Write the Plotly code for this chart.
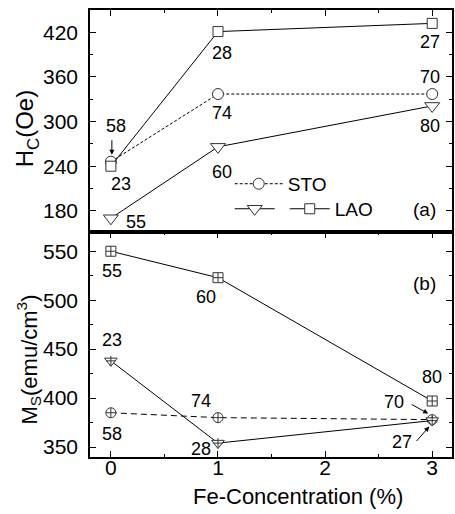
import plotly.graph_objects as go

# ---------------- data ----------------
fe = [0, 1, 3]

hc_sto = [246, 337, 337]
hc_tri = [170, 266, 321]
hc_sq = [240, 421, 432]

ms_sto = [385, 380, 378]
ms_tri = [438, 354, 377]
ms_sq = [550, 523, 397]

hc_sto_lbl = ["58", "74", "70"]
hc_tri_lbl = ["55", "60", "80"]
hc_sq_lbl = ["23", "28", "27"]
ms_sto_lbl = ["58", "74", "70"]
ms_tri_lbl = ["23", "28", "27"]
ms_sq_lbl = ["55", "60", "80"]

# label offsets in px (style)
hc_sto_off = [(5, 36), (4, -19), (-2, 17)]
hc_tri_off = [(25, -4), (4, -25), (-2, -20)]
hc_sq_off = [(10, -18), (4, -21), (-2, -19)]
ms_sto_off = [(1, -21), (-17, 17), (-38, 18)]
ms_tri_off = [(1, 21), (-17, -6), (-30, -21)]
ms_sq_off = [(1, -20), (-12, -19), (0, 24)]

FONT = "Liberation Sans, Arial, sans-serif"
BLK = "black"
MK = "#333333"

fig = go.Figure()

# ---- top panel (Hc) ----
fig.add_trace(go.Scatter(
    x=fe, y=hc_sto, xaxis="x2", yaxis="y2", mode="lines+markers", name="STO",
    line=dict(color=BLK, width=1, dash="3px,2px"),
    marker=dict(symbol="circle", size=11, color="white", line=dict(color=MK, width=1)),
    legend="legend"))
fig.add_trace(go.Scatter(
    x=fe, y=hc_tri, xaxis="x2", yaxis="y2", mode="lines+markers", name="",
    line=dict(color=BLK, width=1),
    marker=dict(symbol="triangle-down", size=13, color="white", line=dict(color=MK, width=1)),
    legend="legend2"))
fig.add_trace(go.Scatter(
    x=fe, y=hc_sq, xaxis="x2", yaxis="y2", mode="lines+markers", name="LAO",
    line=dict(color=BLK, width=1),
    marker=dict(symbol="square", size=10, color="white", line=dict(color=MK, width=1)),
    legend="legend2"))

# ---- bottom panel (Ms) ----
fig.add_trace(go.Scatter(
    x=fe, y=ms_sto, xaxis="x", yaxis="y", mode="lines+markers", showlegend=False,
    line=dict(color=BLK, width=1, dash="6px,4px"),
    marker=dict(symbol="circle-cross", size=10, color="white", line=dict(color=MK, width=1))))
fig.add_trace(go.Scatter(
    x=fe, y=ms_tri, xaxis="x", yaxis="y", mode="lines+markers", showlegend=False,
    line=dict(color=BLK, width=1),
    marker=dict(symbol="triangle-down", size=11, color="white", line=dict(color=MK, width=1))))
fig.add_trace(go.Scatter(
    x=fe, y=ms_tri, xaxis="x", yaxis="y", mode="markers", showlegend=False,
    marker=dict(symbol="cross-thin-open", size=7, color=MK, line=dict(color=MK, width=1))))
fig.add_trace(go.Scatter(
    x=fe, y=ms_sq, xaxis="x", yaxis="y", mode="lines+markers", showlegend=False,
    line=dict(color=BLK, width=1),
    marker=dict(symbol="square-cross", size=10, color="white", line=dict(color=MK, width=1))))

ann = []
def add_labels(ys, lbls, offs, xr, yr):
    for xv, yv, t, (dx, dy) in zip(fe, ys, lbls, offs):
        ann.append(dict(x=xv, y=yv, xref=xr, yref=yr, text=t, showarrow=False,
                        xshift=dx, yshift=dy, font=dict(family=FONT, size=18, color=BLK)))

add_labels(hc_sto, hc_sto_lbl, hc_sto_off, "x2", "y2")
add_labels(hc_tri, hc_tri_lbl, hc_tri_off, "x2", "y2")
add_labels(hc_sq, hc_sq_lbl, hc_sq_off, "x2", "y2")
add_labels(ms_sto, ms_sto_lbl, ms_sto_off, "x", "y")
add_labels(ms_tri, ms_tri_lbl, ms_tri_off, "x", "y")
add_labels(ms_sq, ms_sq_lbl, ms_sq_off, "x", "y")

def arrow(xv, yv, xr, yr, dx, dy, ax, ay):
    ann.append(dict(x=xv, y=yv, xref=xr, yref=yr, text="", showarrow=True,
                    xshift=dx, yshift=dy, ax=ax, ay=ay, arrowhead=2, arrowsize=1,
                    arrowwidth=1, arrowcolor=BLK, standoff=0, startstandoff=0))

arrow(fe[0], hc_sto[0], "x2", "y2", 1, 7, 0, -16)
arrow(fe[2], ms_sto[2], "x", "y", -4, 6, -18, -10)
arrow(fe[2], ms_tri[2], "x", "y", -3, -6, -14, 16)

ann.append(dict(x=0.923, y=0.104, xref="x2 domain", yref="y2 domain", text="(a)",
                xanchor="center", yanchor="middle",
                showarrow=False, font=dict(family=FONT, size=19, color=BLK)))
ann.append(dict(x=0.923, y=0.773, xref="x domain", yref="y domain", text="(b)",
                xanchor="center", yanchor="middle",
                showarrow=False, font=dict(family=FONT, size=19, color=BLK)))

# axis titles
ann.append(dict(x=-0.173, y=0.734, xref="paper", yref="paper", text="H<sub>C</sub>(Oe)",
                xanchor="center", yanchor="middle",
                textangle=-90, showarrow=False, font=dict(family=FONT, size=24, color=BLK)))
ann.append(dict(x=-0.170, y=0.219, xref="paper", yref="paper", text="M<sub>S</sub>(emu/cm<sup>3</sup>)",
                xanchor="center", yanchor="middle",
                textangle=-90, showarrow=False, font=dict(family=FONT, size=22, color=BLK)))
ann.append(dict(x=0.574, y=-0.088, xref="paper", yref="paper", text="Fe-Concentration (%)",
                xanchor="center", yanchor="middle",
                showarrow=False, font=dict(family=FONT, size=22, color=BLK)))

axis_common = dict(showline=True, linecolor=BLK, linewidth=1.5, showgrid=False, zeroline=False,
                   ticks="inside", ticklen=6, tickwidth=1.2, tickcolor=BLK,
                   tickfont=dict(family=FONT, size=21, color=BLK))

fig.update_layout(
    width=455, height=514,
    margin=dict(l=90, r=1, t=10, b=57),
    paper_bgcolor="white", plot_bgcolor="white",
    xaxis=dict(**axis_common, anchor="y", range=[-0.195, 3.185], tickvals=[0, 1, 2, 3],
               mirror="ticks", ticklabelstandoff=-9,
               minor=dict(dtick=0.5, tick0=0, ticks="inside", ticklen=3, tickcolor=BLK, tickwidth=1)),
    xaxis2=dict(**axis_common, anchor="y2", matches="x", range=[-0.195, 3.185], tickvals=[0, 1, 2, 3],
                side="top", mirror=True, showticklabels=False,
                minor=dict(dtick=0.5, tick0=0, ticks="inside", ticklen=3, tickcolor=BLK, tickwidth=1)),
    yaxis=dict(**axis_common, domain=[0, 0.503], range=[339.8, 569.5], tick0=350, dtick=50,
               mirror="ticks", ticklabelstandoff=6,
               minor=dict(dtick=25, tick0=350, ticks="inside", ticklen=3, tickcolor=BLK, tickwidth=1)),
    yaxis2=dict(**axis_common, domain=[0.503, 1], range=[151.3, 450], tick0=180, dtick=60,
                mirror="ticks", ticklabelstandoff=6,
                minor=dict(dtick=30, tick0=180, ticks="inside", ticklen=3, tickcolor=BLK, tickwidth=1)),
    legend=dict(x=0.386, y=0.611, xanchor="left", yanchor="middle", bgcolor="rgba(0,0,0,0)",
                font=dict(family=FONT, size=19, color=BLK), itemwidth=48),
    legend2=dict(x=0.386, y=0.555, xanchor="left", yanchor="middle", orientation="h",
                 bgcolor="rgba(0,0,0,0)", font=dict(family=FONT, size=19, color=BLK), itemwidth=40),
    annotations=ann,
    showlegend=True,
)

fig.write_html("out.html")
